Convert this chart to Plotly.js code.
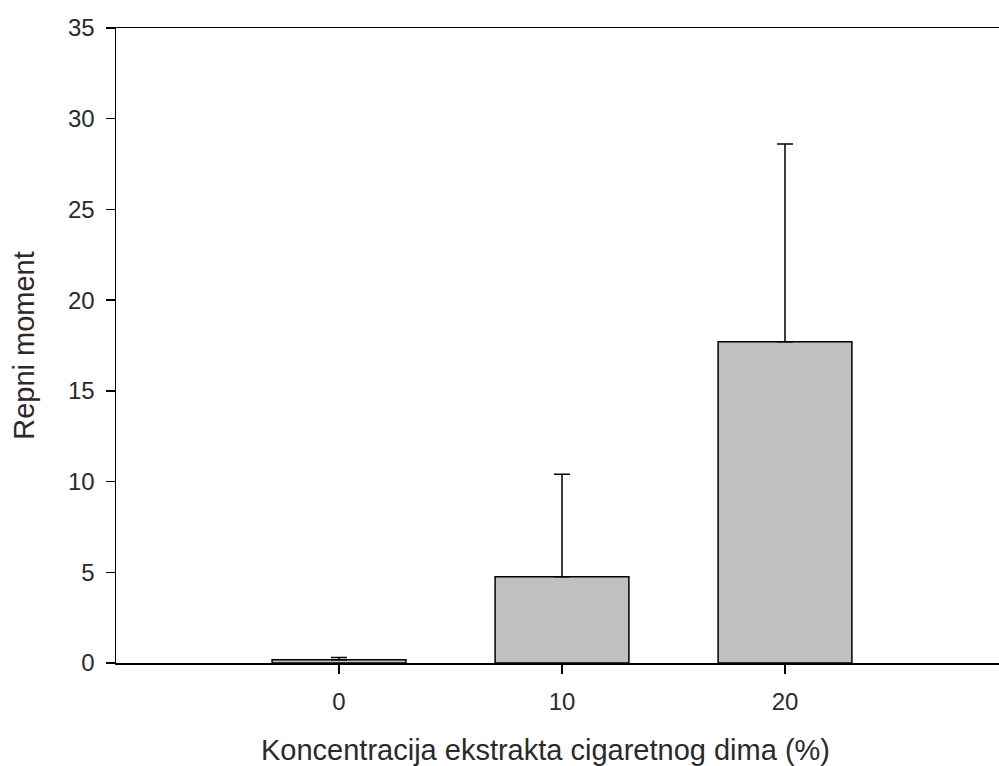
<!DOCTYPE html>
<html>
<head>
<meta charset="utf-8">
<script src="https://cdn.plot.ly/plotly-3.0.1.min.js"></script>
<style>
html, body { margin: 0; padding: 0; overflow: hidden; background: #fff; }
#chart { width: 1010px; height: 766px; }
</style>
</head>
<body>
<div id="chart"></div>
<script>
var categories = ["0", "10", "20"];
var meanValues = [0.18, 4.75, 17.7];
var errorUp = [0.12, 5.65, 10.9];
var errorDown = [0, 0, 0];
var yTickValues = [0, 5, 10, 15, 20, 25, 30, 35];
var xTitle = "Koncentracija ekstrakta cigaretnog dima (%)";
var yTitle = "Repni moment";

var trace = {
  type: "bar",
  x: categories,
  y: meanValues,
  marker: { color: "#c0c0c0", line: { color: "#000", width: 1.5 } },
  error_y: {
    type: "data",
    symmetric: false,
    array: errorUp,
    arrayminus: errorDown,
    color: "#000",
    thickness: 1.5,
    width: 8
  },
  hoverinfo: "none"
};

var layout = {
  width: 1010,
  height: 766,
  margin: { l: 116, r: 2, t: 28, b: 103 },
  paper_bgcolor: "#fff",
  plot_bgcolor: "#fff",
  showlegend: false,
  bargap: 0.4,
  font: { family: "Liberation Sans, Arial, sans-serif", color: "#2a2a2a", size: 24 },
  xaxis: {
    type: "category",
    range: [-1, 3],
    showline: true,
    linecolor: "#000",
    linewidth: 1.5,
    mirror: true,
    ticks: "outside",
    ticklen: 9,
    tickwidth: 1.5,
    tickcolor: "#000",
    ticklabelstandoff: 8,
    showgrid: false,
    zeroline: false,
    tickfont: { size: 24 }
  },
  yaxis: {
    range: [0, 35],
    tickvals: yTickValues,
    showline: true,
    linecolor: "#000",
    linewidth: 1.5,
    ticks: "outside",
    ticklen: 9,
    tickwidth: 1.5,
    tickcolor: "#000",
    ticklabelstandoff: 6,
    showgrid: false,
    zeroline: false,
    tickfont: { size: 24 },
    title: { text: yTitle, font: { size: 29 }, standoff: 25 }
  },
  annotations: [{
    text: xTitle,
    xref: "paper", yref: "paper",
    x: 0.482, y: -0.137,
    xanchor: "center", yanchor: "middle",
    showarrow: false,
    font: { size: 29, color: "#2a2a2a" }
  }]
};

Plotly.newPlot("chart", [trace], layout, { displayModeBar: false, staticPlot: true });
</script>
</body>
</html>
